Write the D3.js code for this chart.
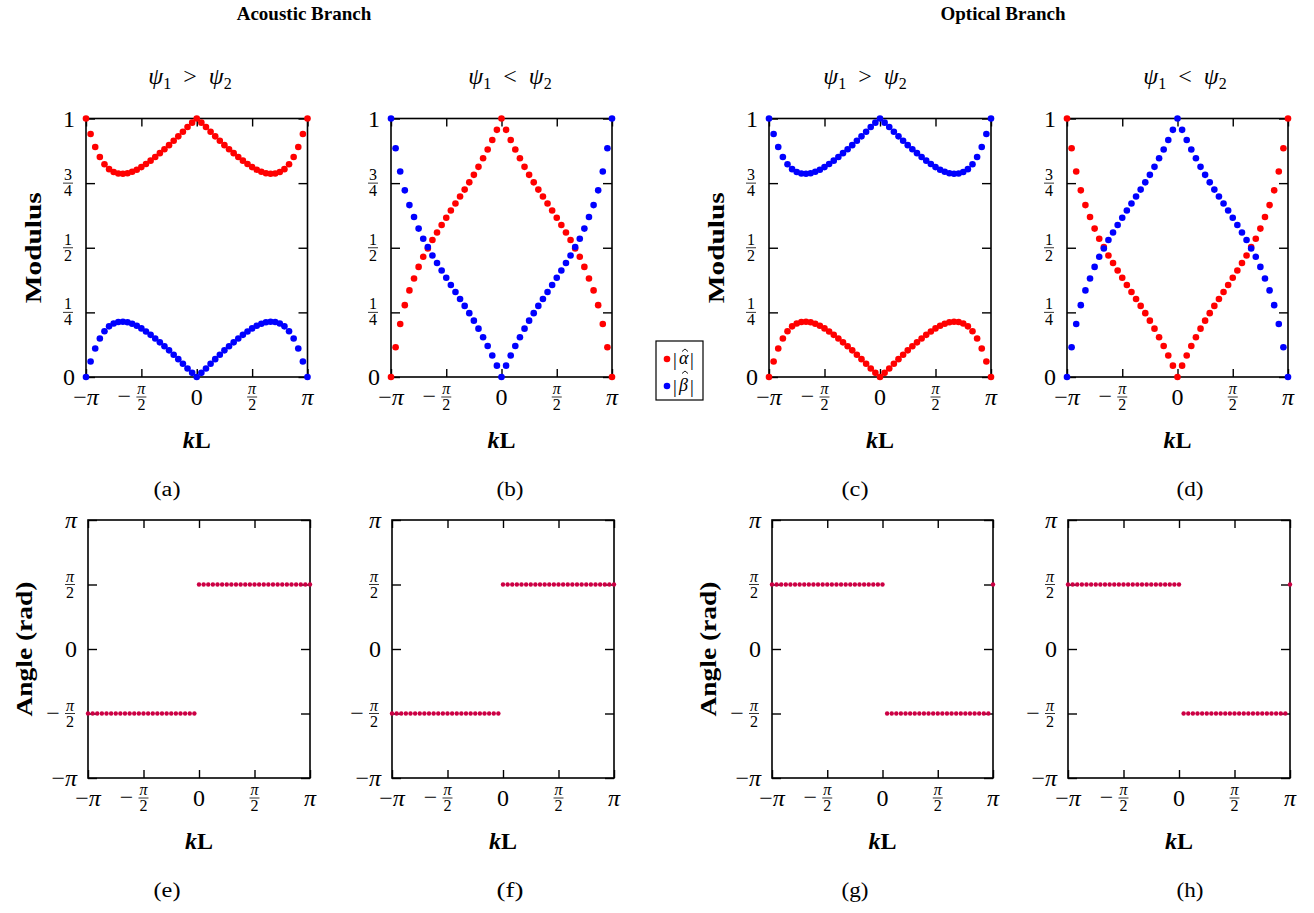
<!DOCTYPE html>
<html>
<head>
<meta charset="utf-8">
<script src="https://cdn.jsdelivr.net/npm/d3@7"></script>
<style>
  body { margin: 0; background: #fff; }
  svg { display: block; }
  text { font-family: "Liberation Serif", "DejaVu Serif", serif; fill: #000; }
</style>
</head>
<body>
<svg id="fig" width="1314" height="913"></svg>
<script>
// kL sampled at 49 evenly spaced points, stored in units of π
const kOverPi = d3.range(-24, 25).map(i => i / 24);

// Modulus of the amplitudes, acoustic branch, ψ1 > ψ2
const alphaAcousticGt = [1.000, 0.940, 0.890, 0.851, 0.823, 0.804, 0.793, 0.787, 0.786, 0.788, 0.794, 0.802, 0.812, 0.824, 0.837, 0.851, 0.866, 0.881, 0.897, 0.914, 0.931, 0.949, 0.967, 0.984, 1.000, 0.984, 0.967, 0.949, 0.931, 0.914, 0.897, 0.881, 0.866, 0.851, 0.837, 0.824, 0.812, 0.802, 0.794, 0.788, 0.786, 0.787, 0.793, 0.804, 0.823, 0.851, 0.890, 0.940, 1.000];
const betaAcousticGt = [0.000, 0.060, 0.110, 0.149, 0.177, 0.196, 0.207, 0.213, 0.214, 0.212, 0.206, 0.198, 0.188, 0.176, 0.163, 0.149, 0.134, 0.119, 0.103, 0.086, 0.069, 0.051, 0.033, 0.016, 0.000, 0.016, 0.033, 0.051, 0.069, 0.086, 0.103, 0.119, 0.134, 0.149, 0.163, 0.176, 0.188, 0.198, 0.206, 0.212, 0.214, 0.213, 0.207, 0.196, 0.177, 0.149, 0.110, 0.060, 0.000];

// Acoustic branch, ψ1 < ψ2
const alphaAcousticLt = [0.000, 0.115, 0.205, 0.278, 0.335, 0.381, 0.426, 0.465, 0.497, 0.530, 0.559, 0.588, 0.616, 0.644, 0.671, 0.698, 0.725, 0.753, 0.782, 0.813, 0.846, 0.880, 0.917, 0.956, 1.000, 0.956, 0.917, 0.880, 0.846, 0.813, 0.782, 0.753, 0.725, 0.698, 0.671, 0.644, 0.616, 0.588, 0.559, 0.530, 0.497, 0.465, 0.426, 0.381, 0.335, 0.278, 0.205, 0.115, 0.000];
const betaAcousticLt = [1.000, 0.885, 0.795, 0.722, 0.665, 0.619, 0.574, 0.535, 0.503, 0.470, 0.441, 0.412, 0.384, 0.356, 0.329, 0.302, 0.275, 0.247, 0.218, 0.187, 0.154, 0.120, 0.083, 0.044, 0.000, 0.044, 0.083, 0.120, 0.154, 0.187, 0.218, 0.247, 0.275, 0.302, 0.329, 0.356, 0.384, 0.412, 0.441, 0.470, 0.503, 0.535, 0.574, 0.619, 0.665, 0.722, 0.795, 0.885, 1.000];

// Optical branch, ψ1 > ψ2
const alphaOpticalGt = [0.000, 0.060, 0.110, 0.149, 0.177, 0.196, 0.207, 0.213, 0.214, 0.212, 0.206, 0.198, 0.188, 0.176, 0.163, 0.149, 0.134, 0.119, 0.103, 0.086, 0.069, 0.051, 0.033, 0.016, 0.000, 0.016, 0.033, 0.051, 0.069, 0.086, 0.103, 0.119, 0.134, 0.149, 0.163, 0.176, 0.188, 0.198, 0.206, 0.212, 0.214, 0.213, 0.207, 0.196, 0.177, 0.149, 0.110, 0.060, 0.000];
const betaOpticalGt = [1.000, 0.940, 0.890, 0.851, 0.823, 0.804, 0.793, 0.787, 0.786, 0.788, 0.794, 0.802, 0.812, 0.824, 0.837, 0.851, 0.866, 0.881, 0.897, 0.914, 0.931, 0.949, 0.967, 0.984, 1.000, 0.984, 0.967, 0.949, 0.931, 0.914, 0.897, 0.881, 0.866, 0.851, 0.837, 0.824, 0.812, 0.802, 0.794, 0.788, 0.786, 0.787, 0.793, 0.804, 0.823, 0.851, 0.890, 0.940, 1.000];

// Optical branch, ψ1 < ψ2
const alphaOpticalLt = [1.000, 0.885, 0.795, 0.722, 0.665, 0.619, 0.574, 0.535, 0.503, 0.470, 0.441, 0.412, 0.384, 0.356, 0.329, 0.302, 0.275, 0.247, 0.218, 0.187, 0.154, 0.120, 0.083, 0.044, 0.000, 0.044, 0.083, 0.120, 0.154, 0.187, 0.218, 0.247, 0.275, 0.302, 0.329, 0.356, 0.384, 0.412, 0.441, 0.470, 0.503, 0.535, 0.574, 0.619, 0.665, 0.722, 0.795, 0.885, 1.000];
const betaOpticalLt = [0.000, 0.115, 0.205, 0.278, 0.335, 0.381, 0.426, 0.465, 0.497, 0.530, 0.559, 0.588, 0.616, 0.644, 0.671, 0.698, 0.725, 0.753, 0.782, 0.813, 0.846, 0.880, 0.917, 0.956, 1.000, 0.956, 0.917, 0.880, 0.846, 0.813, 0.782, 0.753, 0.725, 0.698, 0.671, 0.644, 0.616, 0.588, 0.559, 0.530, 0.497, 0.465, 0.426, 0.381, 0.335, 0.278, 0.205, 0.115, 0.000];

// Relative phase (in units of π)
const phaseAcoustic = [-0.5, -0.5, -0.5, -0.5, -0.5, -0.5, -0.5, -0.5, -0.5, -0.5, -0.5, -0.5, -0.5, -0.5, -0.5, -0.5, -0.5, -0.5, -0.5, -0.5, -0.5, -0.5, -0.5, -0.5, 0.5, 0.5, 0.5, 0.5, 0.5, 0.5, 0.5, 0.5, 0.5, 0.5, 0.5, 0.5, 0.5, 0.5, 0.5, 0.5, 0.5, 0.5, 0.5, 0.5, 0.5, 0.5, 0.5, 0.5, 0.5];
const phaseOptical = [0.5, 0.5, 0.5, 0.5, 0.5, 0.5, 0.5, 0.5, 0.5, 0.5, 0.5, 0.5, 0.5, 0.5, 0.5, 0.5, 0.5, 0.5, 0.5, 0.5, 0.5, 0.5, 0.5, 0.5, 0.5, -0.5, -0.5, -0.5, -0.5, -0.5, -0.5, -0.5, -0.5, -0.5, -0.5, -0.5, -0.5, -0.5, -0.5, -0.5, -0.5, -0.5, -0.5, -0.5, -0.5, -0.5, -0.5, -0.5, 0.5];

// Tick values and their labels
const kTicks = [-1, -0.5, 0, 0.5, 1];
const kTickLabels = [{ text: "−π" }, { minus: true, num: "π", den: "2" }, { text: "0" }, { num: "π", den: "2" }, { text: "π" }];
const modTicks = [0, 0.25, 0.5, 0.75, 1];
const modTickLabels = [{ text: "0" }, { num: "1", den: "4" }, { num: "1", den: "2" }, { num: "3", den: "4" }, { text: "1" }];
const angTicks = [-1, -0.5, 0, 0.5, 1];
const angTickLabels = [{ text: "−π" }, { minus: true, num: "π", den: "2" }, { text: "0" }, { num: "π", den: "2" }, { text: "π" }];

const panelLetters = ["(a)", "(b)", "(c)", "(d)", "(e)", "(f)", "(g)", "(h)"];
const RED = "#ff0000", BLUE = "#0000ff", PHASE = "#cc0044";

const svg = d3.select("#fig");
const BIG = 24, SMALL = 16;

// π renders in the italic math style, everything else upright
function labelText(sel, str) {
  [...str].forEach(ch => {
    sel.append("tspan").attr("font-style", ch === "π" ? "italic" : null).text(ch);
  });
}

function fraction(g, cx, cy, spec) {
  labelText(g.append("text").attr("x", cx).attr("y", cy - 3).attr("text-anchor", "middle")
    .attr("font-size", SMALL), spec.num);
  g.append("line").attr("x1", cx - 5).attr("x2", cx + 5).attr("y1", cy).attr("y2", cy)
    .attr("stroke", "#000").attr("stroke-width", 0.8);
  g.append("text").attr("x", cx).attr("y", cy + 13).attr("text-anchor", "middle")
    .attr("font-size", SMALL).text(spec.den);
  if (spec.minus) {
    g.append("text").attr("x", cx - 17).attr("y", cy + 7).attr("text-anchor", "middle")
      .attr("font-size", BIG).text("−");
  }
}

function panel(p) {
  const x = d3.scaleLinear().domain([-1, 1]).range([p.x0, p.x1]);
  const y = d3.scaleLinear().domain(p.yDomain).range([p.y1, p.y0]);
  const g = svg.append("g");
  const strip = s => { s.select(".domain").remove(); s.selectAll("line").attr("stroke-width", 1.4); };

  g.append("g").attr("transform", `translate(0,${p.y1})`)
    .call(d3.axisBottom(x).tickValues(kTicks).tickSize(-8).tickFormat("")).call(strip);
  g.append("g").attr("transform", `translate(0,${p.y0})`)
    .call(d3.axisTop(x).tickValues(kTicks).tickSize(-8).tickFormat("")).call(strip);
  g.append("g").attr("transform", `translate(${p.x0},0)`)
    .call(d3.axisLeft(y).tickValues(p.yTicks).tickSize(-9).tickFormat("")).call(strip);
  g.append("g").attr("transform", `translate(${p.x1},0)`)
    .call(d3.axisRight(y).tickValues(p.yTicks).tickSize(-9).tickFormat("")).call(strip);

  g.append("rect").attr("x", p.x0).attr("y", p.y0)
    .attr("width", p.x1 - p.x0).attr("height", p.y1 - p.y0)
    .attr("fill", "none").attr("stroke", "#000").attr("stroke-width", 1.6);

  p.series.forEach(s => {
    g.append("g").selectAll("circle").data(s.values).join("circle")
      .attr("cx", (d, i) => x(kOverPi[i])).attr("cy", d => y(d))
      .attr("r", p.r).attr("fill", s.color);
  });

  // y tick labels
  p.yTicks.forEach((t, i) => {
    const spec = p.yLabels[i], ty = y(t);
    if (spec.text) {
      labelText(g.append("text").attr("x", p.x0 - 11).attr("y", ty + 8).attr("text-anchor", "end")
        .attr("font-size", BIG), spec.text);
    } else {
      fraction(g, p.x0 - 18, ty, spec);
    }
  });
  // x tick labels
  kTicks.forEach((t, i) => {
    const spec = kTickLabels[i], tx = x(t), cy = p.y1 + 20;
    if (spec.text) {
      labelText(g.append("text").attr("x", tx).attr("y", cy + 8).attr("text-anchor", "middle")
        .attr("font-size", BIG), spec.text);
    } else {
      fraction(g, tx, cy, spec);
    }
  });
  // x axis title: kL
  const xl = g.append("text").attr("x", (p.x0 + p.x1) / 2).attr("y", p.y1 + 71)
    .attr("text-anchor", "middle").attr("font-size", 24).attr("font-weight", "bold");
  xl.append("tspan").attr("font-style", "italic").text("k");
  xl.append("tspan").text("L");
  // y axis title
  if (p.yTitle) {
    g.append("text").attr("transform", `translate(${p.x0 - p.yTitleOff},${(p.y0 + p.y1) / 2}) rotate(-90)`)
      .attr("text-anchor", "middle").attr("font-size", 23).attr("font-weight", "bold")
      .attr("textLength", p.yTitleLen).attr("lengthAdjust", "spacingAndGlyphs").text(p.yTitle);
  }
  // sub-caption
  g.append("text").attr("x", p.capX).attr("y", p.y1 + 119).attr("text-anchor", "middle")
    .attr("font-size", 20).attr("textLength", 27).attr("lengthAdjust", "spacingAndGlyphs").text(p.letter);
  // ψ condition title
  if (p.cond) {
    const t = g.append("text").attr("x", p.condX).attr("y", 84).attr("text-anchor", "middle").attr("font-size", 24);
    t.append("tspan").attr("font-style", "italic").text("ψ");
    t.append("tspan").attr("font-size", 16).attr("dy", 5).text("1");
    t.append("tspan").attr("dy", -5).text(p.cond === "gt" ? "\u2002>\u2002" : "\u2002<\u2002");
    t.append("tspan").attr("font-style", "italic").text("ψ");
    t.append("tspan").attr("font-size", 16).attr("dy", 5).text("2");
  }
}

const TOP = { y0: 118.5, y1: 377 }, BOT = { y0: 520, y1: 778 };
const topCols = [[86, 307.5], [391, 612], [769, 991], [1067, 1288]];
const botCols = [[88, 310], [392, 614], [772, 993], [1068, 1290]];
const capXs = [167, 510, 855, 1190];
const condXs = [190, 510, 865, 1185];
const modulusSets = [
  [alphaAcousticGt, betaAcousticGt, "gt"],
  [alphaAcousticLt, betaAcousticLt, "lt"],
  [alphaOpticalGt, betaOpticalGt, "gt"],
  [alphaOpticalLt, betaOpticalLt, "lt"]
];
const phaseSets = [phaseAcoustic, phaseAcoustic, phaseOptical, phaseOptical];

modulusSets.forEach(([a, b, cond], i) => {
  panel({
    x0: topCols[i][0], x1: topCols[i][1], y0: TOP.y0, y1: TOP.y1,
    yDomain: [0, 1], yTicks: modTicks, yLabels: modTickLabels, r: 3.3,
    series: [{ values: a, color: RED }, { values: b, color: BLUE }],
    yTitle: (i === 0 || i === 2) ? "Modulus" : null, yTitleOff: 45, yTitleLen: 111,
    letter: panelLetters[i], capX: capXs[i], cond, condX: condXs[i]
  });
});
phaseSets.forEach((ph, i) => {
  panel({
    x0: botCols[i][0], x1: botCols[i][1], y0: BOT.y0, y1: BOT.y1,
    yDomain: [-1, 1], yTicks: angTicks, yLabels: angTickLabels, r: 2.2,
    series: [{ values: ph, color: PHASE }],
    yTitle: (i === 0 || i === 2) ? "Angle (rad)" : null, yTitleOff: 56, yTitleLen: 135,
    letter: panelLetters[i + 4], capX: capXs[i]
  });
});

// Branch headings
svg.append("text").attr("x", 304).attr("y", 20).attr("text-anchor", "middle")
  .attr("font-size", 19).attr("font-weight", "bold").text("Acoustic Branch");
svg.append("text").attr("x", 1003).attr("y", 20).attr("text-anchor", "middle")
  .attr("font-size", 19).attr("font-weight", "bold").text("Optical Branch");

// Legend: |α̂| and |β̂| with the hat drawn as a small caret stroke
const lg = svg.append("g");
lg.append("rect").attr("x", 656).attr("y", 341).attr("width", 47).attr("height", 59)
  .attr("fill", "#fff").attr("stroke", "#000").attr("stroke-width", 1.2);
[["α", RED, 359, 10], ["β", BLUE, 386, 15]].forEach(([sym, col, yy, hatUp]) => {
  lg.append("circle").attr("cx", 667).attr("cy", yy).attr("r", 3.3).attr("fill", col);
  lg.append("text").attr("x", 673).attr("y", yy + 7).attr("font-size", 19).text("|");
  lg.append("text").attr("x", 679).attr("y", yy + 5).attr("font-size", 18)
    .attr("font-style", "italic").text(sym);
  const hx = 685, hy = yy - hatUp;
  lg.append("path").attr("d", `M${hx - 3},${hy + 2.5}L${hx},${hy}L${hx + 3},${hy + 2.5}`)
    .attr("fill", "none").attr("stroke", "#000").attr("stroke-width", 0.9);
  lg.append("text").attr("x", 690).attr("y", yy + 7).attr("font-size", 19).text("|");
});
</script>
</body>
</html>
